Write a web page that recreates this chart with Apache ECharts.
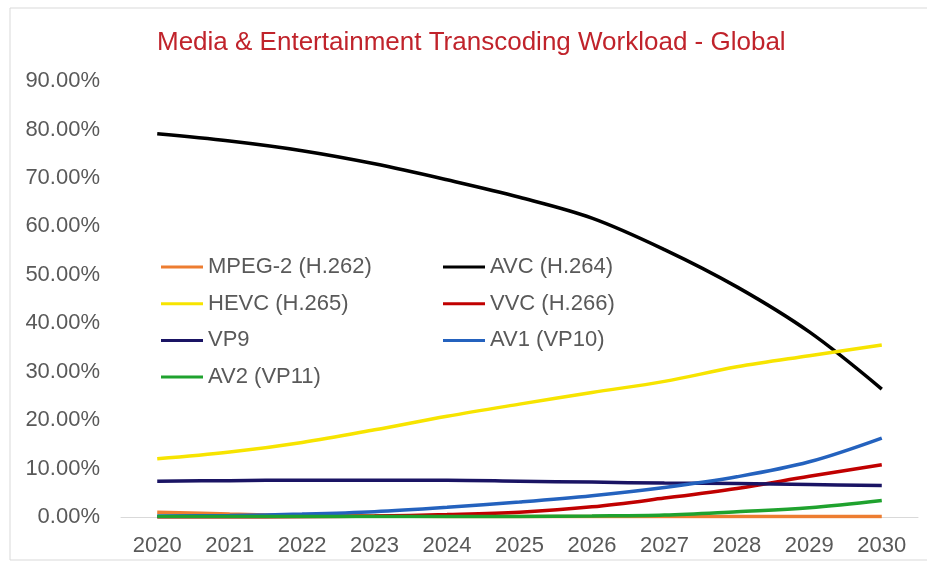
<!DOCTYPE html>
<html>
<head>
<meta charset="utf-8">
<script src="https://cdn.jsdelivr.net/npm/echarts@6/dist/echarts.min.js"></script>
<style>html,body{margin:0;padding:0;background:#fff;}#c{width:927px;height:561px;}</style>
</head>
<body>
<div id="c"></div>
<script>
var years = ['2020','2021','2022','2023','2024','2025','2026','2027','2028','2029','2030'];
var mpeg2 = [1.0, 0.6, 0.3, 0.2, 0.1, 0.1, 0.1, 0.1, 0.1, 0.1, 0.1];
var avc   = [79.1, 77.6, 75.6, 72.9, 69.6, 66.0, 61.7, 55.2, 47.5, 38.2, 26.4];
var hevc  = [12.0, 13.4, 15.4, 18.0, 20.8, 23.3, 25.7, 28.0, 31.0, 33.3, 35.5];
var vvc   = [0.0, 0.0, 0.05, 0.2, 0.5, 1.0, 2.1, 3.9, 5.9, 8.4, 10.8];
var vp9   = [7.4, 7.5, 7.6, 7.6, 7.6, 7.4, 7.2, 7.0, 6.9, 6.7, 6.5];
var av1   = [0.2, 0.3, 0.6, 1.1, 2.0, 3.1, 4.4, 6.1, 8.3, 11.4, 16.3];
var av2   = [0.1, 0.1, 0.1, 0.1, 0.1, 0.1, 0.2, 0.4, 1.1, 1.9, 3.4];
var seriesNames = ['MPEG-2 (H.262)','AVC (H.264)','HEVC (H.265)','VVC (H.266)','VP9','AV1 (VP10)','AV2 (VP11)'];
var seriesData = [mpeg2, avc, hevc, vvc, vp9, av1, av2];
var colors = ['#ED7D31','#000000','#F7E400','#C00000','#1A1464','#2462BE','#1FA22E'];

var font = '"Liberation Sans", Arial, sans-serif';
var chart = echarts.init(document.getElementById('c'));
var legendText = {fontFamily: font, fontSize: 22, color: '#595959', lineHeight: 24};
chart.setOption({
  animation: false,
  color: colors,
  title: {
    text: 'Media & Entertainment Transcoding Workload - Global',
    left: 152, top: 25,
    textStyle: {fontFamily: font, fontSize: 26, fontWeight: 'normal', color: '#C0232B'}
  },
  graphic: [{
    type: 'rect', shape: {x: 10, y: 8, width: 940, height: 552},
    style: {fill: 'none', stroke: '#D9D9D9', lineWidth: 1}, silent: true, z: -1
  }],
  legend: [{
    orient: 'vertical', left: 156, top: 250,
    data: ['MPEG-2 (H.262)','HEVC (H.265)','VP9','AV2 (VP11)'],
    icon: 'rect', itemWidth: 42, itemHeight: 3, itemGap: 12.7,
    textStyle: legendText
  },{
    orient: 'vertical', left: 438, top: 250,
    data: ['AVC (H.264)','VVC (H.266)','AV1 (VP10)'],
    icon: 'rect', itemWidth: 42, itemHeight: 3, itemGap: 12.7,
    textStyle: legendText
  }],
  grid: {left: 121, right: 9, top: 81, bottom: 44, containLabel: false},
  xAxis: {
    type: 'category', data: years, boundaryGap: true,
    axisLine: {lineStyle: {color: '#D9D9D9', width: 1}},
    axisTick: {show: false},
    axisLabel: {fontFamily: font, fontSize: 22, color: '#595959', margin: 18}
  },
  yAxis: {
    type: 'value', min: 0, max: 90, interval: 10,
    axisLine: {show: false}, axisTick: {show: false},
    splitLine: {show: false},
    axisLabel: {fontFamily: font, fontSize: 22, color: '#595959', margin: 21,
      formatter: function (v) { return v.toFixed(2) + '%'; }}
  },
  series: seriesNames.map(function (n, i) {
    return {
      name: n, type: 'line', data: seriesData[i], smooth: 0.35,
      symbol: 'none', lineStyle: {width: 3.5, color: colors[i]},
      itemStyle: {color: colors[i]}
    };
  })
});
</script>
</body>
</html>
